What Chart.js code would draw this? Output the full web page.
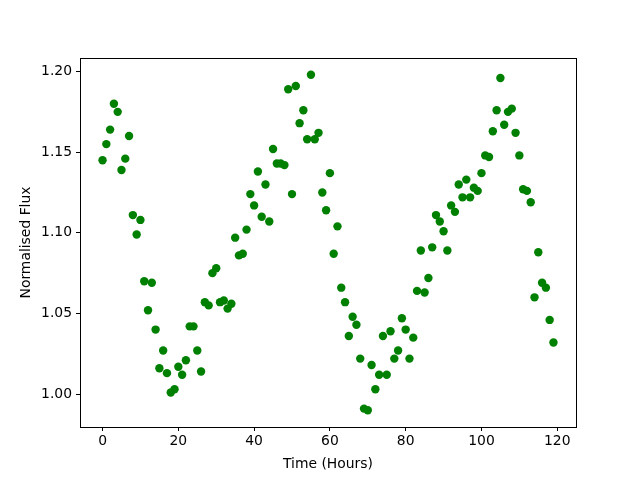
<!DOCTYPE html>
<html>
<head>
<meta charset="utf-8">
<script src="https://cdn.jsdelivr.net/npm/chart.js@4.4.0/dist/chart.umd.min.js"></script>
<style>
  body { margin: 0; background: #fff; }
</style>
</head>
<body>
<canvas id="myChart" width="640" height="480"></canvas>
<script>
// hours of observation
var godziny = [];
for (var h = 0; h < 120; h++) godziny.push(h);

// normalised flux
var strumien = [
  1.145, 1.155, 1.164, 1.180, 1.175, 1.139, 1.146, 1.160, 1.111, 1.099,
  1.108, 1.070, 1.052, 1.069, 1.040, 1.016, 1.027, 1.013, 1.001, 1.003,
  1.017, 1.012, 1.021, 1.042, 1.042, 1.027, 1.014, 1.057, 1.055, 1.075,
  1.078, 1.057, 1.058, 1.053, 1.056, 1.097, 1.086, 1.087, 1.102, 1.124,
  1.117, 1.138, 1.110, 1.130, 1.107, 1.152, 1.143, 1.143, 1.142, 1.189,
  1.124, 1.191, 1.168, 1.176, 1.158, 1.198, 1.158, 1.162, 1.125, 1.114,
  1.137, 1.087, 1.104, 1.066, 1.057, 1.036, 1.048, 1.043, 1.022, 0.991,
  0.990, 1.018, 1.003, 1.012, 1.036, 1.012, 1.039, 1.022, 1.027, 1.047,
  1.040, 1.022, 1.035, 1.064, 1.089, 1.063, 1.072, 1.091, 1.111, 1.107,
  1.101, 1.089, 1.117, 1.113, 1.130, 1.122, 1.133, 1.122, 1.128, 1.126,
  1.137, 1.148, 1.147, 1.163, 1.176, 1.196, 1.167, 1.175, 1.177, 1.162,
  1.148, 1.127, 1.126, 1.119, 1.060, 1.088, 1.069, 1.066, 1.046, 1.032
];

var xTicks = [0, 20, 40, 60, 80, 100, 120];
var yTicks = [1.00, 1.05, 1.10, 1.15, 1.20];

var punkty = godziny.map(function (g, i) { return { x: g, y: strumien[i] }; });

// ramka dookola wykresu (jak w matplotlib)
var ramka = {
  id: 'ramka',
  afterDraw: function (chart) {
    var a = chart.chartArea;
    var ctx = chart.ctx;
    ctx.save();
    ctx.strokeStyle = '#000';
    ctx.lineWidth = 1;
    ctx.strokeRect(Math.round(a.left) + 0.5, Math.round(a.top) + 0.5,
      Math.round(a.right - a.left), Math.round(a.bottom - a.top));
    ctx.restore();
  }
};

var czcionka = { family: 'DejaVu Sans', size: 13.9 };

var ctx = document.getElementById('myChart').getContext('2d');
var chart = new Chart(ctx, {
  type: 'scatter',
  data: {
    datasets: [{
      data: punkty,
      backgroundColor: '#008000',
      borderColor: '#008000',
      borderWidth: 0,
      pointRadius: 4.2,
      pointHoverRadius: 4.2
    }]
  },
  options: {
    responsive: false,
    animation: false,
    layout: { padding: { top: 58, right: 64, left: 0, bottom: 0 } },
    plugins: {
      legend: { display: false },
      tooltip: { enabled: false }
    },
    scales: {
      x: {
        type: 'linear',
        min: -5.95,
        max: 124.95,
        afterBuildTicks: function (s) { s.ticks = xTicks.map(function (v) { return { value: v }; }); },
        afterFit: function (s) { s.height = 53; },
        ticks: { color: '#000', font: czcionka, padding: 2, maxRotation: 0 },
        grid: { display: true, drawOnChartArea: false, drawTicks: true, tickLength: 4, color: '#000' },
        border: { display: true, color: '#000' },
        title: { display: true, text: 'Time (Hours)', color: '#000', font: czcionka, padding: { top: 4, bottom: 7 } }
      },
      y: {
        type: 'linear',
        min: 0.9796,
        max: 1.2084,
        afterBuildTicks: function (s) { s.ticks = yTicks.map(function (v) { return { value: v }; }); },
        afterFit: function (s) { s.width = 80; },
        ticks: {
          color: '#000', font: czcionka, padding: 4,
          callback: function (v) { return v.toFixed(2); }
        },
        grid: { display: true, drawOnChartArea: false, drawTicks: true, tickLength: 4, color: '#000' },
        border: { display: true, color: '#000' },
        title: { display: true, text: 'Normalised Flux', color: '#000', font: czcionka, padding: { top: 18, bottom: 6 } }
      }
    }
  },
  plugins: [ramka]
});
</script>
</body>
</html>
